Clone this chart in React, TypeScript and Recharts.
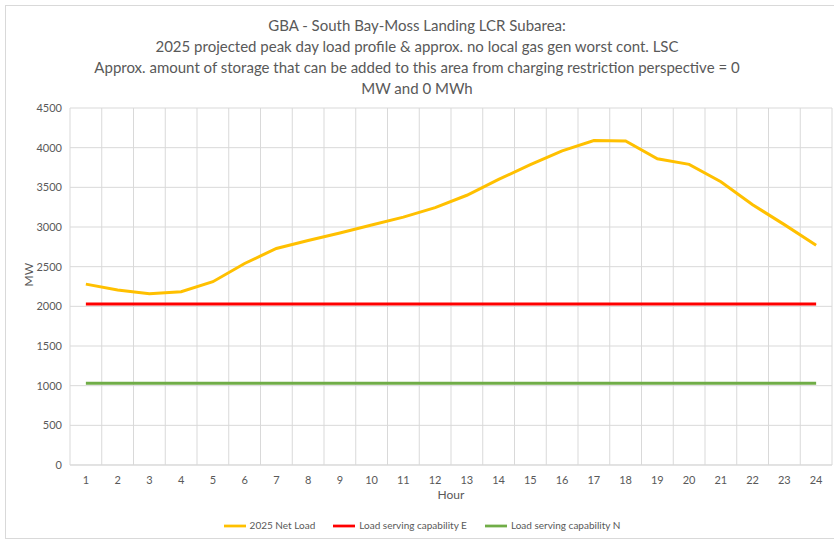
import React from 'react';
import {
  LineChart,
  Line,
  XAxis,
  YAxis,
  CartesianGrid,
  Legend,
  Label,
} from 'recharts';

const hours = [1, 2, 3, 4, 5, 6, 7, 8, 9, 10, 11, 12, 13, 14, 15, 16, 17, 18, 19, 20, 21, 22, 23, 24];
const netLoad = [2280, 2205, 2160, 2185, 2310, 2540, 2730, 2830, 2925, 3025, 3125, 3245, 3400, 3600, 3785, 3960, 4090, 4085, 3860, 3790, 3570, 3280, 3030, 2770];
const lscE = [2030, 2030, 2030, 2030, 2030, 2030, 2030, 2030, 2030, 2030, 2030, 2030, 2030, 2030, 2030, 2030, 2030, 2030, 2030, 2030, 2030, 2030, 2030, 2030];
const lscN = [1030, 1030, 1030, 1030, 1030, 1030, 1030, 1030, 1030, 1030, 1030, 1030, 1030, 1030, 1030, 1030, 1030, 1030, 1030, 1030, 1030, 1030, 1030, 1030];
const yTicks = [0, 500, 1000, 1500, 2000, 2500, 3000, 3500, 4000, 4500];

const titleLines = [
  'GBA - South Bay-Moss Landing LCR Subarea:',
  '2025 projected peak day load profile & approx. no local gas gen worst cont. LSC',
  'Approx. amount of storage that can be added to this area from charging restriction perspective = 0',
  'MW and 0 MWh',
];

const data = hours.map((h, i) => ({
  hour: h,
  netLoad: netLoad[i],
  lscE: lscE[i],
  lscN: lscN[i],
}));

const FONT = 'Lato, "Noto Sans", sans-serif';
const TEXT = '#595959';
const GRID = '#d9d9d9';

// vertical gridlines sit between categories, like Excel's default
const boundaryLines = ({ offset }: any) => {
  const step = offset.width / hours.length;
  return Array.from({ length: hours.length + 1 }, (_, i) => offset.left + i * step);
};

const App: React.FC = () => {
  return (
    <div
      style={{
        position: 'absolute',
        left: 0,
        top: 0,
        width: 834,
        height: 543,
        background: '#fff',
        fontFamily: FONT,
      }}
    >
      <div
        style={{
          position: 'absolute',
          left: 5,
          top: 5,
          width: 840,
          height: 532,
          border: '1px solid #d9d9d9',
        }}
      />
      <div
        style={{
          position: 'absolute',
          left: 0,
          top: 15,
          width: 834,
          textAlign: 'center',
          color: TEXT,
          fontSize: 15,
          lineHeight: '21px',
        }}
      >
        {titleLines.map((t) => (
          <div key={t}>{t}</div>
        ))}
      </div>
      <LineChart
        width={834}
        height={543}
        data={data}
        margin={{ top: 108, right: 2, bottom: 16, left: 30 }}
        style={{ position: 'absolute', left: 0, top: 0 }}
      >
        <CartesianGrid stroke={GRID} verticalCoordinatesGenerator={boundaryLines} />
        <XAxis
          dataKey="hour"
          padding={{ left: 15.875, right: 15.875 }}
          tickLine={false}
          axisLine={{ stroke: GRID }}
          tick={{ fill: TEXT, fontSize: 11, fontFamily: FONT }}
          tickMargin={5}
          height={40}
        >
          <Label value="Hour" position="insideBottom" offset={6} fill={TEXT} fontSize={12} fontFamily={FONT} />
        </XAxis>
        <YAxis
          domain={[0, 4500]}
          ticks={yTicks}
          tickLine={false}
          axisLine={false}
          tick={{ fill: TEXT, fontSize: 11, fontFamily: FONT }}
          width={40}
        >
          <Label value="MW" angle={-90} position="insideLeft" offset={-1} fill={TEXT} fontSize={12} fontFamily={FONT} />
        </YAxis>
        <Legend
          verticalAlign="bottom"
          iconType="plainline"
          iconSize={22}
          wrapperStyle={{ fontSize: 10, fontFamily: FONT, color: TEXT, bottom: 6 }}
          formatter={(v) => <span style={{ color: TEXT, marginRight: 8 }}>{v}</span>}
        />
        <Line
          type="linear"
          dataKey="netLoad"
          name="2025 Net Load"
          stroke="#FFC000"
          strokeWidth={3}
          dot={false}
          isAnimationActive={false}
        />
        <Line
          type="linear"
          dataKey="lscE"
          name="Load serving capability E"
          stroke="#FF0000"
          strokeWidth={3}
          dot={false}
          isAnimationActive={false}
        />
        <Line
          type="linear"
          dataKey="lscN"
          name="Load serving capability N"
          stroke="#70AD47"
          strokeWidth={3}
          dot={false}
          isAnimationActive={false}
        />
      </LineChart>
    </div>
  );
};

export default App;
